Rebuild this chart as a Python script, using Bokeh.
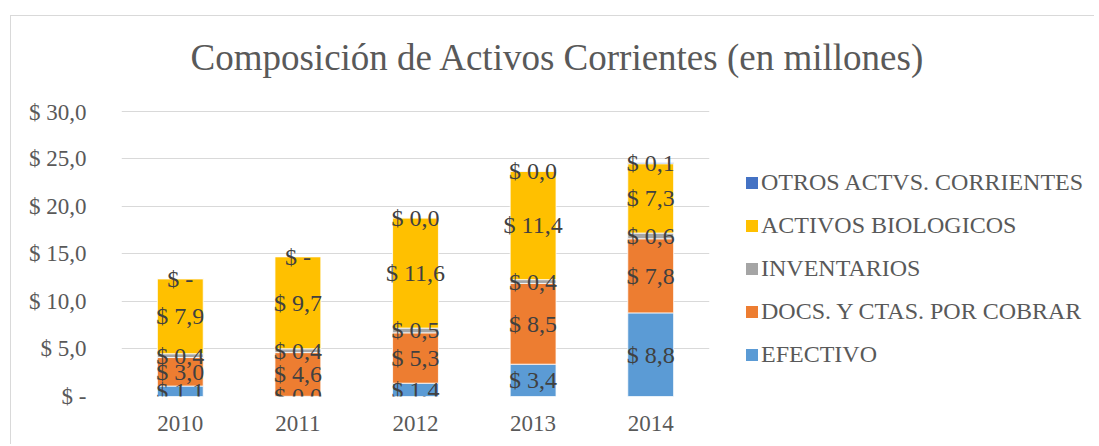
from bokeh.plotting import figure
from bokeh.layouts import row, column
from bokeh.models import (ColumnDataSource, FactorRange, Range1d, FixedTicker, Legend, LegendItem, Title)
from bokeh.core.properties import value
from bokeh.embed import file_html
from bokeh.resources import INLINE

years = ["2010", "2011", "2012", "2013", "2014"]
series = ["EFECTIVO", "DOCS. Y CTAS. POR COBRAR", "INVENTARIOS", "ACTIVOS BIOLOGICOS", "OTROS ACTVS. CORRIENTES"]
efectivo = [1.1, 0.02, 1.4, 3.4, 8.8]
docs_ctas = [3.0, 4.6, 5.3, 8.5, 7.8]
inventarios = [0.4, 0.4, 0.5, 0.4, 0.6]
biologicos = [7.9, 9.7, 11.6, 11.4, 7.3]
otros = [0.0, 0.0, 0.02, 0.02, 0.1]
colors = ["#5B9BD5", "#ED7D31", "#A5A5A5", "#FFC000", "#4472C4"]
y_ticks = [0, 5, 10, 15, 20, 25, 30]
y_tick_labels = ["$ -", "$ 5,0", "$ 10,0", "$ 15,0", "$ 20,0", "$ 25,0", "$ 30,0"]
title_text = "Composición de Activos Corrientes (en millones)"

FONT = "Liberation Serif"
values = [efectivo, docs_ctas, inventarios, biologicos, otros]
keys = ["s0", "s1", "s2", "s3", "s4"]
data = {"year": years}
for k, v in zip(keys, values):
    data[k] = v
source = ColumnDataSource(data)

# title strip
t = figure(width=1083, height=83, output_backend="svg", toolbar_location=None,
           min_border=0, min_border_left=110, x_range=Range1d(0, 1), y_range=Range1d(0, 1))
t.axis.visible = False
t.grid.visible = False
t.outline_line_color = None
t.border_fill_color = "white"
t.background_fill_color = "white"
t.title = Title(text=title_text, align="left", offset=69, text_font=FONT,
                text_font_size="37px", text_font_style="normal", text_color="#595959",
                vertical_align="middle", standoff=38)

# main chart
p = figure(width=708, height=345, x_range=FactorRange(*years), y_range=Range1d(0, 30.1),
           output_backend="svg", toolbar_location=None, min_border_left=110,
           min_border_right=10, min_border_top=11, min_border_bottom=48)
p.outline_line_color = None
p.background_fill_color = "white"
p.border_fill_color = "white"

renderers = p.vbar_stack(keys, x="year", width=0.39, color=colors, line_color="white",
                         line_width=0.8, source=source)

# data labels
lx, ly, lt = [], [], []
for i, y in enumerate(years):
    base = 0.0
    for v in values:
        v_i = v[i]
        lx.append(y)
        ly.append(base + v_i / 2)
        lt.append("$ -" if v_i == 0 else "$ " + f"{v_i:.1f}".replace(".", ","))
        base += v_i
lab_src = ColumnDataSource(dict(x=lx, y=ly, t=lt))
p.text(x="x", y="y", text="t", source=lab_src, text_font=value(FONT), text_font_size="24px",
       text_color="#404040", text_align="center", text_baseline="middle")

p.xgrid.grid_line_color = None
p.ygrid.grid_line_color = "#d9d9d9"
p.ygrid.grid_line_width = 1
p.yaxis.ticker = FixedTicker(ticks=y_ticks)
p.yaxis.major_label_overrides = {tk: lb for tk, lb in zip(y_ticks, y_tick_labels)}
for ax in (p.xaxis, p.yaxis):
    ax.axis_line_color = None
    ax.major_tick_line_color = None
    ax.minor_tick_line_color = None
    ax.major_label_text_font = FONT
    ax.major_label_text_font_size = "23px"
    ax.major_label_text_color = "#595959"
p.yaxis.major_label_standoff = 29
p.xaxis.major_label_standoff = 13

# legend in a side figure (proxy glyphs kept out of view)
q = figure(width=375, height=345, x_range=FactorRange(*years), y_range=Range1d(40, 70),
           output_backend="svg", toolbar_location=None, min_border=0)
q.axis.visible = False
q.grid.visible = False
q.outline_line_color = None
q.border_fill_color = "white"
q.background_fill_color = "white"
q_renderers = q.vbar_stack(keys, x="year", width=0.0, color=colors, line_color=None,
                           source=source)
items = [LegendItem(label=s, renderers=[r]) for s, r in zip(series, q_renderers)][::-1]
legend = Legend(items=items, location=(25, 28), orientation="vertical",
                glyph_width=15, glyph_height=15, label_standoff=2, spacing=16,
                label_text_font=FONT, label_text_font_size="24px", label_text_color="#595959",
                label_height=24, padding=0, margin=0, border_line_alpha=0,
                background_fill_alpha=0)
q.add_layout(legend, "center")

layout = column(t, row(p, q))
layout.styles = {"margin-left": "10px", "margin-top": "15px",
                 "border-left": "1px solid #d9d9d9", "border-top": "1px solid #d9d9d9"}

open("out.html", "w").write(file_html(layout, INLINE))
